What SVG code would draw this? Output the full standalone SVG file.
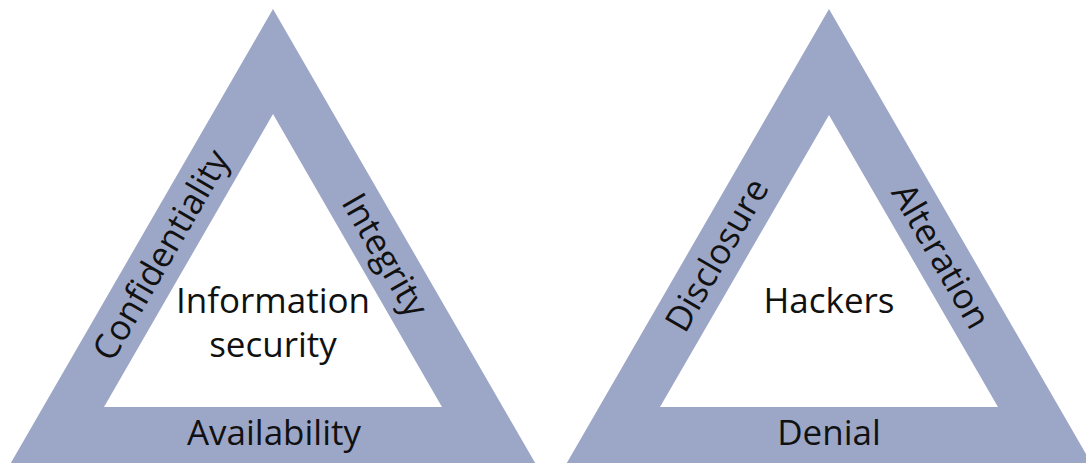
<svg xmlns="http://www.w3.org/2000/svg" width="1086" height="463" viewBox="0 0 1086 463">
  <style>
    .band { fill: #9ca7c7; fill-rule: evenodd; }
    .lbl { font-family: "Open Sans", "Noto Sans", "Liberation Sans", sans-serif; font-size: 35px; fill: #111111; text-anchor: middle; }
  </style>
  <rect width="1086" height="463" fill="#ffffff"/>

  <!-- Left triangle: the CIA triad -->
  <g id="cia-triad">
    <path class="band" d="M273 9 L545 480 L1 480 Z M273 114 L442 407 L104 407 Z"/>
    <g transform="translate(161 255) rotate(-60)"><text class="lbl" x="0" y="12">Confidentiality</text></g>
    <g transform="translate(385 255) rotate(60)"><text class="lbl" x="0" y="12">Integrity</text></g>
    <text class="lbl" x="274" y="445">Availability</text>
    <text class="lbl" x="273" y="313">Information</text>
    <text class="lbl" x="273" y="357">security</text>
  </g>

  <!-- Right triangle: the DAD triad -->
  <g id="dad-triad">
    <path class="band" d="M829 9 L1101 480 L557 480 Z M829 115 L998 407 L660 407 Z"/>
    <g transform="translate(717 255) rotate(-60)"><text class="lbl" x="0" y="12">Disclosure</text></g>
    <g transform="translate(941 256) rotate(60)"><text class="lbl" x="0" y="12">Alteration</text></g>
    <text class="lbl" x="829" y="445">Denial</text>
    <text class="lbl" x="829" y="313">Hackers</text>
  </g>

  <!-- no connectors in this figure -->
  <g id="connectors"/>
</svg>
